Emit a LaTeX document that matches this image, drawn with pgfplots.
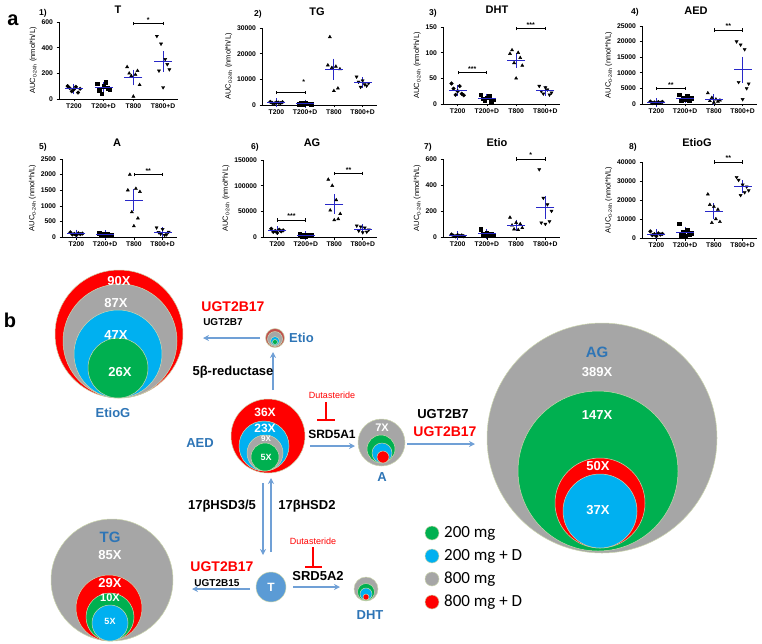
\documentclass[border=0pt]{standalone}
\usepackage{pgfplots}
\pgfplotsset{compat=1.18}
\usepackage{fontspec}
\setmainfont{Liberation Sans}
\newfontfamily\calib{Carlito}
\usetikzlibrary{arrows.meta}
\definecolor{cgreen}{RGB}{0,176,80}
\definecolor{cblue}{RGB}{0,176,240}
\definecolor{cgray}{RGB}{166,166,166}
\definecolor{cred}{RGB}{255,0,0}
\definecolor{tblue}{RGB}{46,117,182}
\definecolor{arr}{RGB}{112,160,214}
\definecolor{tcirc}{RGB}{91,155,213}
\definecolor{mblue}{RGB}{40,40,200}
\definecolor{ring}{RGB}{205,215,175}
\definecolor{mred}{RGB}{192,80,77}
\newcommand{\fs}[1]{\fontsize{#1}{#1}\selectfont}
\pgfplotsset{
 pa/.style={scale only axis, xmin=-0.5, xmax=3.5, ymin=0, axis lines*=left,
   axis line style={line width=0.8pt}, xtick={0,1,2,3}, xticklabels={T200,T200+D,T800,T800+D},
   tick style={black, line width=0.6pt}, major tick length=2.5pt, tick align=outside,
   ticklabel style={font=\fs{6.8}\bfseries}, /pgf/number format/assume math mode=true,
   /pgf/number format/fixed, /pgf/number format/1000 sep={}, scaled ticks=false, clip=false,
   ylabel={AUC\textsubscript{0-24h} (nmol*h/L)}, ylabel style={font=\fs{7.5}, yshift=-2pt},
   xticklabel style={yshift=1pt}},
 pt/.style={only marks, black, mark size=1.8pt},
 tdn/.style={mark=triangle*, mark options={rotate=180}},
 ms/.style={only marks, mblue, mark=-, mark size=9pt, mark options={line width=1pt},
   error bars/.cd, y dir=both, y explicit, error mark options={mblue, mark size=4pt, line width=1pt},
   error bar style={line width=1pt, mblue}},
}
\newcommand{\grp}[3]{\addplot[pt,#1] table[header=false, row sep=\\, x expr={#2+0.07*\coordindex-0.21}, y index=0] {#3};}
\newcommand{\brk}[4]{\draw[line width=0.6pt, {Bar[width=3.5pt]}-{Bar[width=3.5pt]}] (axis cs:#1,#3) -- (axis cs:#2,#3) node[midway, above, inner sep=1pt, font=\fs{7}\bfseries] {#4};}
\newcommand{\bub}[4]{\addplot[only marks, mark=*, mark size=#3pt, mark options={draw=ring, line width=0.5pt, fill=#4}] coordinates {(#1,#2)};}
\newcommand{\arrow}[4]{\draw[arr, line width=1.4pt, -{Stealth[length=6pt,width=6pt]}] (axis cs:#1,#2) -- (axis cs:#3,#4);}
\begin{document}
\begin{tikzpicture}
\path[use as bounding box] (0pt,0pt) rectangle (762pt,-644pt);
% ---------------- panel b ----------------
\begin{axis}[at={(0pt,-644pt)}, anchor=south west, scale only axis, width=762pt, height=644pt,
  xmin=0, xmax=762, ymin=0, ymax=644, y dir=reverse, hide axis, clip=false]
% EtioG
\bub{119}{334}{64}{cred}
\bub{120}{341}{57}{cgray}
\bub{118}{354}{44}{cblue}
\bub{118}{368}{30}{cgreen}
% Etio
\bub{275}{338}{9.5}{mred}
\bub{275}{339}{7.5}{cgray}
\bub{275}{341}{4.5}{cblue}
\bub{275}{342}{2.5}{cgreen}
% AED
\bub{268}{436}{37}{cred}
\bub{264}{446}{25}{cblue}
\bub{265}{453}{18}{cgray}
\bub{265}{457}{14}{cgreen}
% A
\bub{381.5}{442.5}{23.5}{cgray}
\bub{381}{449}{14}{cgreen}
\bub{382}{453}{10}{cblue}
\bub{383}{457}{6}{cred}
% AG
\bub{602}{438}{115}{cgray}
\bub{598}{471}{80}{cgreen}
\bub{600}{503}{45}{cred}
\bub{600}{511}{37}{cblue}
% T
\bub{271}{587}{15}{tcirc}
% DHT
\bub{366}{589}{12}{cgray}
\bub{366}{592}{8.5}{cgreen}
\bub{366}{594}{6}{cblue}
\bub{366}{597}{3}{cred}
% TG
\bub{112}{580}{61}{cgray}
\bub{109}{608}{33}{cred}
\bub{110}{617}{24}{cgreen}
\bub{110}{623}{18}{cblue}
% legend
\bub{432}{533}{7}{cgreen}
\bub{432}{556}{7}{cblue}
\bub{432}{579}{7}{cgray}
\bub{432}{602}{7}{cred}
% arrows
\arrow{260}{338}{203}{338}
\arrow{273}{390}{273}{352}
\arrow{310}{446}{355}{446}
\arrow{407}{444}{475}{444}
\arrow{263}{483}{263}{555}
\arrow{271}{552}{271}{478}
\arrow{250}{589}{192}{589}
\arrow{293}{587}{340}{587}
% inhibitors
\draw[cred, line width=1.2pt] (axis cs:326,402) -- (axis cs:326,420);
\draw[cred, line width=1.2pt] (axis cs:317,420) -- (axis cs:335,420);
\draw[cred, line width=1.2pt] (axis cs:313,547) -- (axis cs:313,567);
\draw[cred, line width=1.2pt] (axis cs:305,567) -- (axis cs:322,567);
\end{axis}
% texts of panel b (1 unit = 1 px)
\begin{scope}[every node/.style={font=\fs{13}\bfseries, inner sep=0pt}]
\node[white] at (119pt,-281pt) {90X};
\node[white] at (116pt,-303pt) {87X};
\node[white] at (116pt,-335pt) {47X};
\node[white] at (120pt,-372pt) {26X};
\node[tblue] at (113pt,-413pt) {EtioG};
\node[cred, font=\fs{14}\bfseries] at (233pt,-307pt) {UGT2B17};
\node[black, font=\fs{10}\bfseries] at (223pt,-322pt) {UGT2B7};
\node[tblue, anchor=west] at (289pt,-338pt) {Etio};
\node[black] at (233pt,-372pt) {5β-reductase};
\node[white, font=\fs{12}\bfseries] at (265pt,-412pt) {36X};
\node[white, font=\fs{12}\bfseries] at (265pt,-428pt) {23X};
\node[white, font=\fs{8}\bfseries] at (266pt,-439pt) {9X};
\node[white, font=\fs{9}\bfseries] at (266pt,-457pt) {5X};
\node[tblue] at (200pt,-443pt) {AED};
\node[cred, font=\fs{9}] at (332pt,-395pt) {Dutasteride};
\node[black, font=\fs{12}\bfseries] at (332pt,-434pt) {SRD5A1};
\node[white, font=\fs{11}\bfseries] at (382pt,-428pt) {7X};
\node[tblue] at (382pt,-477pt) {A};
\node[black] at (443pt,-414pt) {UGT2B7};
\node[cred, font=\fs{14}\bfseries] at (445pt,-432pt) {UGT2B17};
\node[tblue, font=\fs{15}\bfseries] at (597pt,-352pt) {AG};
\node[white] at (597pt,-372pt) {389X};
\node[white] at (597pt,-415pt) {147X};
\node[white] at (598pt,-466pt) {50X};
\node[white] at (598pt,-510pt) {37X};
\node[black] at (222pt,-506pt) {17βHSD3/5};
\node[black] at (307pt,-506pt) {17βHSD2};
\node[white, font=\fs{12}\bfseries] at (271pt,-587pt) {T};
\node[cred, font=\fs{14}\bfseries] at (222pt,-567pt) {UGT2B17};
\node[black, font=\fs{10}\bfseries] at (217pt,-583pt) {UGT2B15};
\node[cred, font=\fs{9}] at (313pt,-541pt) {Dutasteride};
\node[black] at (318pt,-576pt) {SRD5A2};
\node[tblue] at (370pt,-615pt) {DHT};
\node[tblue, font=\fs{15}\bfseries] at (110pt,-537pt) {TG};
\node[white] at (110pt,-555pt) {85X};
\node[white] at (110pt,-583pt) {29X};
\node[white, font=\fs{11}\bfseries] at (110pt,-598pt) {10X};
\node[white, font=\fs{9}\bfseries] at (110pt,-621pt) {5X};
\node[black, anchor=west, font=\calib\fs{17}] at (444pt,-533pt) {200 mg};
\node[black, anchor=west, font=\calib\fs{17}] at (444pt,-556pt) {200 mg + D};
\node[black, anchor=west, font=\calib\fs{17}] at (444pt,-579pt) {800 mg};
\node[black, anchor=west, font=\calib\fs{17}] at (444pt,-602pt) {800 mg + D};
\end{scope}
% ---------------- panel a ----------------
\begin{axis}[pa, at={(59pt,-99pt)}, anchor=south west, width=119pt, height=77pt, ymax=600, ytick={0,200,400,600}]
\grp{mark=*}{0}{100\\85\\60\\75\\95\\50\\80\\}
\grp{mark=square*}{1}{120\\70\\40\\100\\130\\85\\75\\}
\grp{mark=triangle*}{2}{250\\200\\180\\20\\190\\220\\110\\}
\grp{tdn}{3}{490\\220\\430\\90\\310\\270\\230\\}
\addplot[ms] coordinates {(0,78) +- (0,8) (1,89) +- (0,12) (2,167) +- (0,30) (3,291) +- (0,48)};
\brk{2}{3}{587}{*}
\end{axis}
\begin{axis}[pa, at={(262pt,-105pt)}, anchor=south west, width=115pt, height=77pt, ymax=30000, ytick={0,10000,20000,30000}]
\grp{mark=*}{0}{1200\\800\\600\\1000\\900\\700\\1100\\}
\grp{mark=square*}{1}{400\\600\\300\\700\\500\\450\\350\\}
\grp{mark=triangle*}{2}{15500\\26500\\14500\\5500\\15000\\6500\\14000\\}
\grp{tdn}{3}{11000\\9000\\7000\\9500\\8000\\7500\\8500\\}
\addplot[ms] coordinates {(0,900) +- (0,80) (1,470) +- (0,55) (2,13929) +- (0,2600) (3,8643) +- (0,520)};
\brk{0}{1}{4800}{}
\node[font=\fs{7}\bfseries] at (axis cs:0.95,9000) {*};
\end{axis}
\begin{axis}[pa, at={(443pt,-104pt)}, anchor=south west, width=117pt, height=77pt, ymax=150, ytick={0,50,100,150}]
\grp{mark=*}{0}{40\\30\\18\\25\\35\\20\\17\\}
\grp{mark=square*}{1}{18\\10\\7\\12\\15\\6\\8\\}
\grp{mark=triangle*}{2}{98\\105\\80\\50\\100\\90\\75\\}
\grp{tdn}{3}{35\\25\\20\\32\\28\\18\\22\\}
\addplot[ms] coordinates {(0,26.4) +- (0,3.3) (1,10.9) +- (0,1.6) (2,85.4) +- (0,7) (3,25.7) +- (0,2.3)};
\brk{0}{1}{61}{***}
\brk{2}{3}{147}{***}
\end{axis}
\begin{axis}[pa, at={(642pt,-104pt)}, anchor=south west, width=115pt, height=78pt, ymax=25000, ytick={0,5000,10000,15000,20000,25000}]
\grp{mark=*}{0}{800\\300\\500\\200\\600\\400\\700\\}
\grp{mark=square*}{1}{3000\\1000\\2000\\1500\\2500\\1200\\1800\\}
\grp{mark=triangle*}{2}{3500\\1000\\2000\\500\\1500\\800\\1200\\}
\grp{tdn}{3}{20000\\7000\\19000\\1500\\17500\\5000\\6500\\}
\addplot[ms] coordinates {(0,500) +- (0,80) (1,1714) +- (0,270) (2,1500) +- (0,390) (3,10929) +- (0,2900)};
\brk{0}{1}{5000}{**}
\brk{2}{3}{23700}{**}
\end{axis}
\begin{axis}[pa, at={(62pt,-237pt)}, anchor=south west, width=115pt, height=78pt, ymax=2500, ytick={0,500,1000,1500,2000,2500}]
\grp{mark=*}{0}{150\\80\\100\\60\\120\\90\\110\\}
\grp{mark=square*}{1}{120\\60\\90\\40\\100\\70\\80\\}
\grp{mark=triangle*}{2}{1500\\2000\\800\\350\\1550\\600\\1450\\}
\grp{tdn}{3}{300\\150\\100\\250\\60\\80\\160\\}
\addplot[ms] coordinates {(0,101) +- (0,11) (1,80) +- (0,10) (2,1179) +- (0,230) (3,157) +- (0,33)};
\brk{2}{3}{2000}{**}
\end{axis}
\begin{axis}[pa, at={(263pt,-237pt)}, anchor=south west, width=114pt, height=77pt, ymax=150000, ytick={0,50000,100000,150000}]
\grp{mark=*}{0}{16000\\10000\\12000\\8000\\14000\\11000\\13000\\}
\grp{mark=square*}{1}{5000\\2000\\3000\\1000\\4000\\2500\\3500\\}
\grp{mark=triangle*}{2}{112000\\52000\\100000\\33000\\72000\\35000\\45000\\}
\grp{tdn}{3}{22000\\12000\\20000\\9000\\18000\\10000\\14000\\}
\addplot[ms] coordinates {(0,12000) +- (0,1000) (1,3000) +- (0,520) (2,64143) +- (0,11500) (3,15000) +- (0,1900)};
\brk{0}{1}{33000}{***}
\brk{2}{3}{124000}{**}
\end{axis}
\begin{axis}[pa, at={(443pt,-237pt)}, anchor=south west, width=117pt, height=78pt, ymax=600, ytick={0,200,400,600}]
\grp{mark=*}{0}{20\\10\\5\\15\\8\\12\\6\\}
\grp{mark=square*}{1}{60\\20\\10\\30\\15\\25\\18\\}
\grp{mark=triangle*}{2}{150\\90\\60\\110\\55\\100\\70\\}
\grp{tdn}{3}{520\\110\\300\\100\\250\\120\\200\\}
\addplot[ms] coordinates {(0,10.9) +- (0,2) (1,25) +- (0,6) (2,90.7) +- (0,12) (3,228) +- (0,57)};
\brk{2}{3}{600}{*}
\end{axis}
\begin{axis}[pa, at={(642pt,-238pt)}, anchor=south west, width=115pt, height=76pt, ymax=40000, ytick={0,10000,20000,30000,40000}]
\grp{mark=*}{0}{3500\\1500\\2000\\1000\\2500\\1800\\2200\\}
\grp{mark=square*}{1}{7500\\1500\\3000\\1000\\4000\\2000\\2500\\}
\grp{mark=triangle*}{2}{23000\\17500\\8000\\16500\\10000\\15000\\8500\\}
\grp{tdn}{3}{32000\\30500\\22500\\28000\\24000\\27000\\25000\\}
\addplot[ms] coordinates {(0,2071) +- (0,300) (1,3071) +- (0,800) (2,14071) +- (0,2100) (3,27000) +- (0,1300)};
\brk{2}{3}{40000}{**}
\end{axis}
% titles
\begin{scope}[every node/.style={font=\fs{11}\bfseries, inner sep=0pt}]
\node[font=\fs{8.5}\bfseries] at (43pt,-13pt) {1)};  \node at (118pt,-10pt) {T};
\node[font=\fs{8.5}\bfseries] at (258pt,-14pt) {2)}; \node at (317pt,-12pt) {TG};
\node[font=\fs{8.5}\bfseries] at (433pt,-13pt) {3)}; \node at (497pt,-10pt) {DHT};
\node[font=\fs{8.5}\bfseries] at (635pt,-12pt) {4)}; \node at (696pt,-11pt) {AED};
\node[font=\fs{8.5}\bfseries] at (43pt,-147pt) {5)};  \node at (117pt,-143pt) {A};
\node[font=\fs{8.5}\bfseries] at (255pt,-147pt) {6)}; \node at (312pt,-143pt) {AG};
\node[font=\fs{8.5}\bfseries] at (428pt,-147pt) {7)}; \node at (497pt,-143pt) {Etio};
\node[font=\fs{8.5}\bfseries] at (633pt,-147pt) {8)}; \node at (697pt,-143pt) {EtioG};
\node[font=\fs{20}\bfseries] at (13pt,-20pt) {a};
\node[font=\fs{20}\bfseries] at (10pt,-320pt) {b};
\end{scope}
\end{tikzpicture}
\end{document}
